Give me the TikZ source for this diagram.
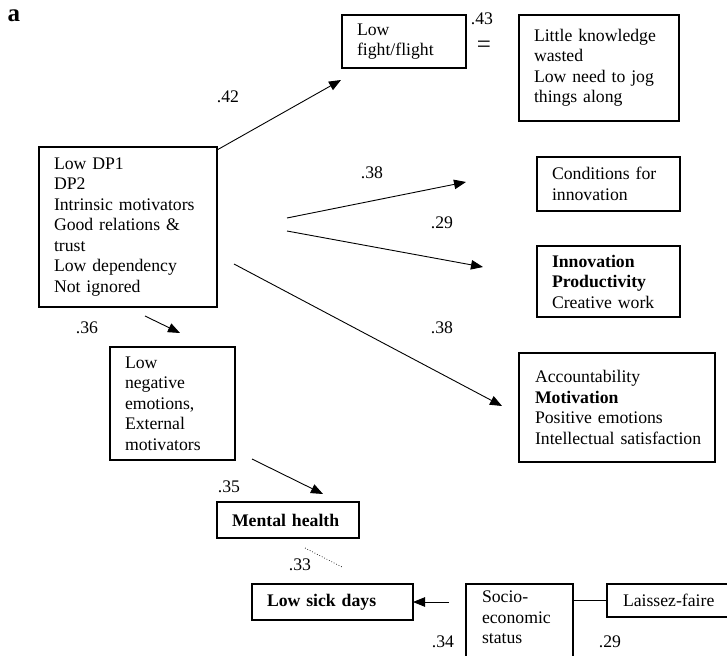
\documentclass[tikz,border=0pt]{standalone}
\usepackage{fontspec}
\setmainfont{Liberation Serif}
\usetikzlibrary{arrows.meta}
\newcommand{\fsz}{\fontsize{17.7pt}{20.5pt}\selectfont}
\begin{document}
\begin{tikzpicture}[x=1pt,y=-1pt,
  box/.style={draw, line width=1.1pt, anchor=north west, align=left, inner ysep=0pt, outer sep=0pt, font=\fsz},
  lbl/.style={font=\fsz, inner sep=0pt},
  arr/.style={line width=0.9pt, -{Triangle[length=12pt,width=9.5pt]}},
]
\useasboundingbox (0,0) rectangle (727,655);
\clip (0,0) rectangle (727,655);

\node[font=\fontsize{25pt}{28pt}\selectfont\bfseries, inner sep=0pt] (lettera) at (14,16) {a};

\node[box, minimum height=160pt, text width=148pt, inner xsep=15pt] (main) at (39,147)
  {Low DP1\\DP2\\Intrinsic motivators\\Good relations \&\\trust\\Low dependency\\Not ignored};
\node[box, minimum height=53pt, text width=94pt, inner xsep=15pt] (fight) at (342,15)
  {Low\\fight/flight};
\node[box, minimum height=106pt, text width=130pt, inner xsep=15pt] (little) at (519,15)
  {\mbox{Little knowledge}\\wasted\\Low need to jog\\things along};
\node[box, minimum height=54pt, text width=113pt, inner xsep=15pt] (cond) at (537,157)
  {Conditions for\\innovation};
\node[box, minimum height=71pt, text width=113pt, inner xsep=15pt] (innov) at (537,246)
  {\textbf{Innovation}\\\textbf{Productivity}\\Creative work};
\node[box, minimum height=109pt, text width=164pt, inner xsep=16pt] (acc) at (519,353)
  {Accountability\\\textbf{Motivation}\\Positive emotions\\\mbox{Intellectual satisfaction}};
\node[box, minimum height=113pt, text width=95pt, inner xsep=15pt] (neg) at (110,347)
  {Low\\negative\\emotions,\\External\\motivators};
\node[box, minimum height=36pt, text width=112pt, inner xsep=15pt] (mental) at (217,502)
  {\textbf{Mental health}};
\node[box, minimum height=36pt, text width=131pt, inner xsep=15pt] (sick) at (252,584)
  {\textbf{Low sick days}};
\node[box, text width=75pt, inner xsep=16pt, inner ysep=7pt, text depth=70pt] (socio) at (466,584)
  {Socio-\\economic\\status};
\node[box, minimum height=33pt, text width=108pt, inner xsep=16pt] (laissez) at (607,584)
  {Laissez-faire};

\node[lbl] (l42) at (228,97) {.42};
\node[lbl] (l43) at (482,19) {.43};
\node[lbl, font=\fontsize{25pt}{28pt}\selectfont] (leq) at (484,46.5) {=};
\node[lbl] (l38a) at (372,173) {.38};
\node[lbl] (l29a) at (442,223) {.29};
\node[lbl] (l38b) at (442,328) {.38};
\node[lbl] (l36) at (87,328) {.36};
\node[lbl] (l35) at (229,487) {.35};
\node[lbl] (l33) at (300,565) {.33};
\node[lbl] (l34) at (443,642) {.34};
\node[lbl] (l29b) at (610,642) {.29};

\coordinate (s1) at (217,150); \coordinate (t1) at (341,80);
\coordinate (s2) at (287,218); \coordinate (t2) at (466,182);
\coordinate (s3) at (287,231); \coordinate (t3) at (483,267);
\coordinate (s4) at (234,264); \coordinate (t4) at (502,406);
\coordinate (s5) at (145,316); \coordinate (t5) at (180,333);
\coordinate (s6) at (252,459); \coordinate (t6) at (323,494);
\coordinate (s7) at (449,602);
\coordinate (d1) at (305,548); \coordinate (d2) at (342,567);

\draw[arr] (s1) -- (t1);
\draw[arr] (s2) -- (t2);
\draw[arr] (s3) -- (t3);
\draw[arr] (s4) -- (t4);
\draw[arr] (s5) -- (t5);
\draw[arr] (s6) -- (t6);
\draw[arr] (s7) -- (sick.east);
\draw[dotted, line width=0.7pt] (d1) -- (d2);
\draw[line width=1pt] (laissez.west) -- (laissez.west -| socio.east);
\end{tikzpicture}
\end{document}
